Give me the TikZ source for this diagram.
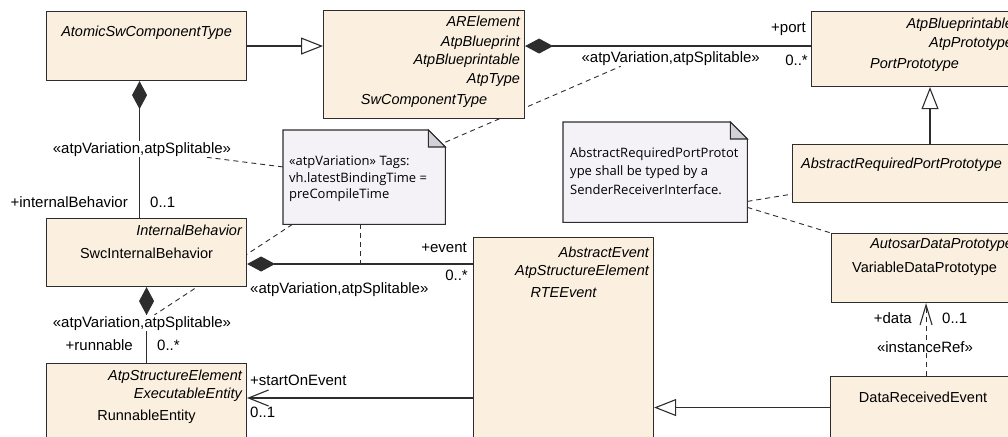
\documentclass[tikz,border=0pt]{standalone}
\usepackage{fontspec}
\setmainfont{Liberation Sans}
\newfontfamily\notefont{Open Sans}
\usetikzlibrary{arrows.meta,backgrounds}

\definecolor{clsfill}{RGB}{251,240,224}
\definecolor{notefill}{RGB}{245,242,247}
\definecolor{foldgray}{RGB}{211,209,216}
\definecolor{umlline}{RGB}{45,45,45}

\begin{document}
\begin{tikzpicture}[x=1pt, y=-1pt,
        every node/.style={font=\fontsize{14.5}{17}\selectfont},
        classbox/.style={rectangle, draw=umlline, fill=clsfill, line width=1.1pt, inner sep=0pt, anchor=north west},
        stereo/.style={anchor=base east, inner sep=0pt, font=\fontsize{14.5}{17}\selectfont\itshape},
        clsname/.style={anchor=base, inner sep=0pt},
        absname/.style={clsname, font=\fontsize{14.5}{17}\selectfont\itshape},
        role/.style={inner sep=0pt, font=\fontsize{15}{17}\selectfont},
        stlabel/.style={role, inner sep=1pt, fill=white},
        notebox/.style={rectangle, inner sep=0pt, anchor=north west},
        notebody/.style={draw=umlline, fill=notefill, line width=1.1pt},
        notefold/.style={draw=umlline, fill=foldgray, line width=1.1pt},
        notetext/.style={anchor=north west, align=left, inner sep=0pt, font=\notefont\fontsize{13}{16.5}\selectfont},
        gen/.style={draw=umlline, line width=1.1pt, -{Triangle[length=22pt, width=17pt, fill=white]}},
        comp/.style={draw=umlline, line width=1.1pt, {Diamond[length=28pt, width=15pt]}-},
        assoc/.style={draw=umlline, line width=1.1pt, -{Straight Barb[length=20pt, width=16pt]}},
        iref/.style={draw=umlline, line width=1.1pt, dash pattern=on 5pt off 4pt, -{Straight Barb[length=20pt, width=12pt]}},
        notelink/.style={draw=umlline, line width=0.9pt, dash pattern=on 5pt off 4pt}
    ]
        \path[use as bounding box] (0,0) rectangle (1008,436);
        \clip (0,0) rectangle (1008,436);

        % Classes
        \node[classbox, minimum width=200, minimum height=69] (atomic) at (46,11) {};
        \node[classbox, minimum width=201, minimum height=108] (swct) at (323,10) {};
        \node[classbox, minimum width=206, minimum height=75] (port) at (811,11) {};
        \node[classbox, minimum width=218, minimum height=58] (arpp) at (792,144) {};
        \node[classbox, minimum width=186, minimum height=69] (vdp) at (831,233) {};
        \node[classbox, minimum width=185, minimum height=62] (drev) at (830,376) {};
        \node[classbox, minimum width=180, minimum height=210] (rte) at (473,237) {};
        \node[classbox, minimum width=200, minimum height=68] (sib) at (46,218) {};
        \node[classbox, minimum width=200, minimum height=80] (run) at (46,363) {};

        % Class texts
        \node[absname] (atomicname) at ([yshift=-26pt]atomic.north) {AtomicSwComponentType};

        \node[stereo] (swcts1) at ([shift={(-5,17)}]swct.north east) {ARElement};
        \node[stereo] (swcts2) at ([shift={(-5,36)}]swct.north east) {AtpBlueprint};
        \node[stereo] (swcts3) at ([shift={(-5,54)}]swct.north east) {AtpBlueprintable};
        \node[stereo] (swcts4) at ([shift={(-5,73)}]swct.north east) {AtpType};
        \node[absname] (swctname) at ([yshift=-94pt]swct.north) {SwComponentType};

        \node[stereo] (ports1) at ([shift={(-5,18)}]port.north east) {AtpBlueprintable};
        \node[stereo] (ports2) at ([shift={(-5,37)}]port.north east) {AtpPrototype};
        \node[absname] (portname) at ([yshift=-57pt]port.north) {PortPrototype};

        \node[absname] (arppname) at ([yshift=-24pt]arpp.north) {AbstractRequiredPortPrototype};

        \node[stereo] (vdps1) at ([shift={(-5,15)}]vdp.north east) {AutosarDataPrototype};
        \node[clsname] (vdpname) at ([yshift=-39pt]vdp.north) {VariableDataPrototype};

        \node[clsname] (drevname) at ([yshift=-26pt]drev.north) {DataReceivedEvent};

        \node[stereo] (rtes1) at ([shift={(-5,20)}]rte.north east) {AbstractEvent};
        \node[stereo] (rtes2) at ([shift={(-5,38)}]rte.north east) {AtpStructureElement};
        \node[absname] (rtename) at ([yshift=-60pt]rte.north) {RTEEvent};

        \node[stereo] (sibs1) at ([shift={(-5,17)}]sib.north east) {InternalBehavior};
        \node[clsname] (sibname) at ([yshift=-40pt]sib.north) {SwcInternalBehavior};

        \node[stereo] (runs1) at ([shift={(-5,17)}]run.north east) {AtpStructureElement};
        \node[stereo] (runs2) at ([shift={(-5,35)}]run.north east) {ExecutableEntity};
        \node[clsname] (runname) at ([yshift=-57pt]run.north) {RunnableEntity};

        \coordinate (evjoin) at (360,264);

        % Paths: Generalizations
        \draw[gen] (atomic.east) -- (atomic.east -| swct.west);
        \draw[gen] (arpp.north -| 930,0) -- (port.south -| 930,0);
        \draw[gen] (drev.west) -- (drev.west -| rte.east);

        % Paths: Compositions
        \draw[comp] (swct.east |- atomic.east) -- (atomic.east -| port.west);
        \draw[comp] ([xshift=-7pt]atomic.south) -- ([xshift=-7pt]sib.north);
        \draw[comp] (sib.east |- evjoin) -- (rte.west |- evjoin);
        \draw[comp] (sib.south) -- (run.north);

        % Paths: Associations
        \draw[assoc] (rte.west |- 0,398) -- (run.east |- 0,398);
        \draw[iref] ([xshift=3pt]drev.north) -- ([xshift=3pt]drev.north |- vdp.south);

        % Labels
        \node[role, anchor=base east] (lblport) at (760,63) {«atpVariation,atpSplitable»};
        \node[role, anchor=base east] (portrole) at (806,33) {+port};
        \node[role, anchor=base east] (portmult) at (808,66) {0..*};

        \node[stlabel, anchor=base] (lblint) at (142,153) {«atpVariation,atpSplitable»};
        \node[role, anchor=base east] (introle) at (128,207) {+internalBehavior};
        \node[role, anchor=base west] (intmult) at (150,207) {0..1};

        \node[role, anchor=base west] (lblevent) at (250,293) {«atpVariation,atpSplitable»};
        \node[role, anchor=base east] (evrole) at (467,252) {+event};
        \node[role, anchor=base east] (evmult) at (468,280) {0..*};

        \node[stlabel, anchor=base] (lblrun) at (142,327) {«atpVariation,atpSplitable»};
        \node[role, anchor=base east] (runrole) at (133,350) {+runnable};
        \node[role, anchor=base west] (runmult) at (157,350) {0..*};

        \node[role, anchor=base west] (startrole) at (250,385) {+startOnEvent};
        \node[role, anchor=base west] (startmult) at (250,417) {0..1};

        \node[role, anchor=base east] (datarole) at (912,323) {+data};
        \node[role, anchor=base west] (datamult) at (942,323) {0..1};
        \node[stlabel, anchor=base] (lbliref) at (925,352) {«instanceRef»};

        % Notes
        \node[notebox, minimum width=162, minimum height=94] (note1) at (283,130) {};
        \filldraw[notebody] (note1.north west) -- ([xshift=-17pt]note1.north east) -- ([yshift=-17pt]note1.north east) -- (note1.south east) -- (note1.south west) -- cycle;
        \filldraw[notefold] ([xshift=-17pt]note1.north east) -- ([shift={(-17,17)}]note1.north east) -- ([yshift=-17pt]note1.north east) -- cycle;
        \node[notetext] (note1txt) at ([shift={(6,26)}]note1.north west) {«atpVariation» Tags:\\vh.latestBindingTime =\\preCompileTime};

        \node[notebox, minimum width=184, minimum height=100] (note2) at (563,122) {};
        \filldraw[notebody] (note2.north west) -- ([xshift=-17pt]note2.north east) -- ([yshift=-17pt]note2.north east) -- (note2.south east) -- (note2.south west) -- cycle;
        \filldraw[notefold] ([xshift=-17pt]note2.north east) -- ([shift={(-17,17)}]note2.north east) -- ([yshift=-17pt]note2.north east) -- cycle;
        \node[notetext, font=\notefont\fontsize{13}{18.5}\selectfont] (note2txt) at ([shift={(7,25)}]note2.north west) {AbstractRequiredPortProtot\\ype shall be typed  by a\\SenderReceiverInterface.};

        % Note links
        \begin{scope}[on background layer]
            \draw[notelink] (note1) -- ([xshift=-50pt]lblport.south);
            \draw[notelink] (note1) -- (lblint);
            \draw[notelink] (note1) -- (lblrun);
            \draw[notelink] (evjoin |- note1.south) -- (evjoin);
            \draw[notelink] ([yshift=21pt]note2.south east) -- ([yshift=9pt]arpp.south west);
            \draw[notelink] ([yshift=15pt]note2.south east) -- (vdp.north west);
        \end{scope}
    \end{tikzpicture}
\end{document}
